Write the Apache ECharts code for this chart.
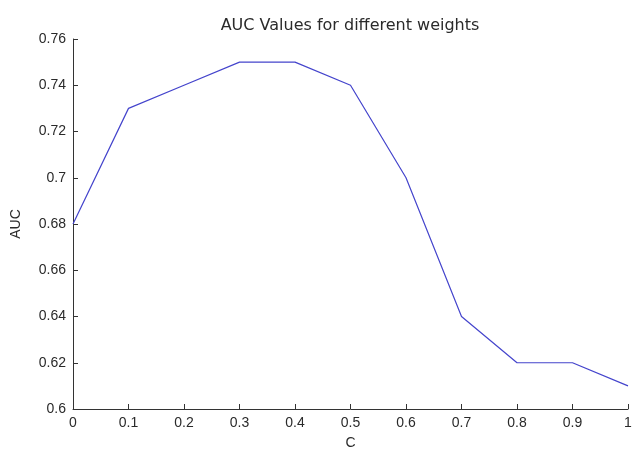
<!DOCTYPE html>
<html>
<head>
<meta charset="utf-8">
<script src="https://cdn.jsdelivr.net/npm/echarts@6/dist/echarts.min.js"></script>
<style>
  html, body { margin: 0; padding: 0; background: #fff; }
  #chart { width: 633px; height: 449px; }
</style>
</head>
<body>
<div id="chart"></div>
<script>
// Weight parameter C and the resulting AUC
const cValues = [0, 0.1, 0.2, 0.3, 0.4, 0.5, 0.6, 0.7, 0.8, 0.9, 1];
const aucValues = [0.68, 0.73, 0.74, 0.75, 0.75, 0.74, 0.70, 0.64, 0.62, 0.62, 0.61];

const chart = echarts.init(document.getElementById('chart'), null, { renderer: 'canvas' });
const font = 'Liberation Sans, Arial, sans-serif';
const titleFont = 'DejaVu Sans, sans-serif';
const axisColor = '#333';
const textColor = '#2a2a2a';

chart.setOption({
  animation: false,
  backgroundColor: '#fff',
  title: {
    text: 'AUC Values for different weights',
    left: 345,
    top: 13,
    textAlign: 'center',
    textStyle: { fontFamily: titleFont, fontSize: 16, fontWeight: 'normal', color: textColor }
  },
  grid: { left: 73, right: 5, top: 39, bottom: 40, containLabel: false, outerBoundsMode: 'none' },
  xAxis: {
    type: 'value',
    min: 0, max: 1, interval: 0.1,
    name: 'C',
    nameLocation: 'middle',
    nameGap: 27,
    nameTextStyle: { fontFamily: font, fontSize: 14, color: textColor },
    axisLine: { show: true, onZero: false, lineStyle: { color: axisColor, width: 1 } },
    axisTick: { show: true, inside: true, length: 5, lineStyle: { color: axisColor } },
    axisLabel: { fontFamily: font, fontSize: 14, color: textColor, margin: 7,
      formatter: v => String(Math.round(v * 10) / 10) },
    splitLine: { show: false }
  },
  yAxis: {
    type: 'value',
    min: 0.6, max: 0.76, interval: 0.02,
    name: 'AUC',
    nameLocation: 'middle',
    nameGap: 50,
    nameTextStyle: { fontFamily: font, fontSize: 14, color: textColor },
    axisLine: { show: true, onZero: false, lineStyle: { color: axisColor, width: 1 } },
    axisTick: { show: true, inside: true, length: 5, lineStyle: { color: axisColor } },
    axisLabel: { fontFamily: font, fontSize: 14, color: textColor, margin: 7,
      formatter: v => String(Math.round(v * 100) / 100) },
    splitLine: { show: false }
  },
  series: [{
    type: 'line',
    data: cValues.map((c, i) => [c, aucValues[i]]),
    showSymbol: false,
    lineStyle: { color: '#4444cc', width: 1.2 },
    emphasis: { disabled: true }
  }]
});
</script>
</body>
</html>
